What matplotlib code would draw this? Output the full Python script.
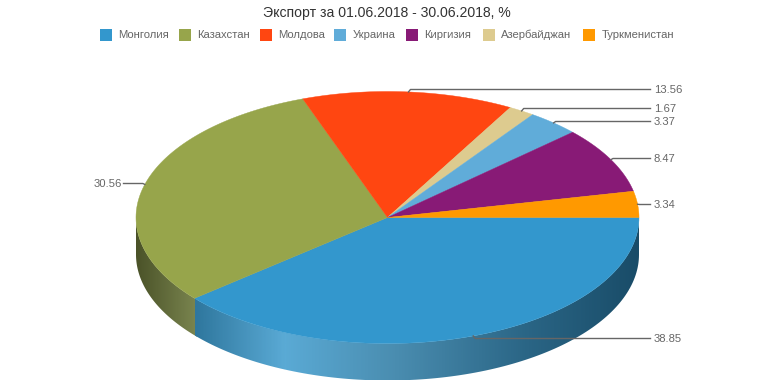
import matplotlib
matplotlib.use('Agg')
import matplotlib.pyplot as plt
import numpy as np
from matplotlib.colors import LinearSegmentedColormap
from matplotlib.patches import Polygon, Rectangle

plt.rcParams['font.family'] = ['Liberation Sans', 'DejaVu Sans']

# Data, in the order the slices run round the pie
paises = ['Монголия', 'Казахстан', 'Молдова', 'Азербайджан', 'Украина', 'Киргизия', 'Туркменистан']
valores = [38.85, 30.56, 13.56, 1.67, 3.37, 8.47, 3.34]
colores = ['#3397cd', '#97a54b', '#ff4611', '#ddcb8f', '#60acd9', '#881a76', '#ff9900']

# The legend runs in another order
leyenda = ['Монголия', 'Казахстан', 'Молдова', 'Украина', 'Киргизия', 'Азербайджан', 'Туркменистан']
leyenda_x = [100, 179, 260, 334, 406, 483, 583]

# y of each value label, the labels are spread out by hand
etiqueta_y = [338.5, 183.5, 89.5, 108.5, 121.5, 158.5, 204.5]

# Pie geometry in pixels
cx, cy = 387.5, 217.5
rx, ry = 251.5, 126
prof = 37

fig = plt.figure(figsize=(7.74, 3.87), dpi=100)
ax = fig.add_axes([0, 0, 1, 1])
ax.set_xlim(0, 774)
ax.set_ylim(387, 0)
ax.axis('off')


def elipse(ang):
    ang = np.radians(ang)
    return cx + rx * np.cos(ang), cy + ry * np.sin(ang)


def lateral(a0, a1, cols):
    # side wall between two angles, filled with a horizontal gradient
    ang = np.linspace(a0, a1, 120)
    x, y = elipse(ang)
    pts = np.r_[np.c_[x, y], np.c_[x[::-1], y[::-1] + prof]]
    poly = Polygon(pts, closed=True, fc='none', ec='none')
    ax.add_patch(poly)
    cmap = LinearSegmentedColormap.from_list('lat', cols)
    grad = np.linspace(0, 1, 400).reshape(1, -1)
    im = ax.imshow(grad, cmap=cmap, aspect='auto', zorder=1,
                   extent=[x.min(), x.max(), cy + ry + prof, cy])
    im.set_clip_path(poly)


angulos = np.r_[0, np.cumsum(valores)] / np.sum(valores) * 360

# --- Side walls (olive first and a bit longer, so no seam shows under the blue) ---
lateral(angulos[1] - 1, 180, ['#4a5228', '#7b8650'])
lateral(0, angulos[1], [(0, '#2f779e'), (0.2, '#5aaad5'), (0.45, '#4a8db0'),
                        (0.75, '#2a6585'), (1, '#194c68')])
ax.set_xlim(0, 774)
ax.set_ylim(387, 0)

# --- Top face ---
for i, col in enumerate(colores):
    ang = np.linspace(angulos[i], angulos[i + 1], 100)
    x, y = elipse(ang)
    pts = np.r_[[[cx, cy]], np.c_[x, y]]
    ax.add_patch(Polygon(pts, closed=True, fc=col, ec=col, lw=0.3, zorder=2))

# --- Leader lines and value labels ---
for i, v in enumerate(valores):
    x, y = elipse((angulos[i] + angulos[i + 1]) / 2)
    yl = etiqueta_y[i]
    if x > cx:
        ax.plot([x, x + 2, 650.5], [y, yl, yl], color='#666666', lw=1, zorder=3)
        ax.text(654, yl + 3.8, f'{v:.2f}', color='#666666', fontsize=8.1, ha='left', va='baseline')
    else:
        ax.plot([x, x - 2, 123.5], [y, yl, yl], color='#666666', lw=1, zorder=3)
        ax.text(121.7, yl + 3.8, f'{v:.2f}', color='#666666', fontsize=8.1, ha='right', va='baseline')

# --- Title and legend ---
ax.text(387, 12.5, 'Экспорт за 01.06.2018 - 30.06.2018, %', color='#333333',
        fontsize=10.1, ha='center', va='center')
for nombre, x in zip(leyenda, leyenda_x):
    ax.add_patch(Rectangle((x, 29), 12, 12, fc=colores[paises.index(nombre)], ec='none'))
    ax.text(x + 18.3, 38.4, nombre, color='#666666', fontsize=8.1, ha='left', va='baseline')

fig.savefig('out.png', dpi=100)
